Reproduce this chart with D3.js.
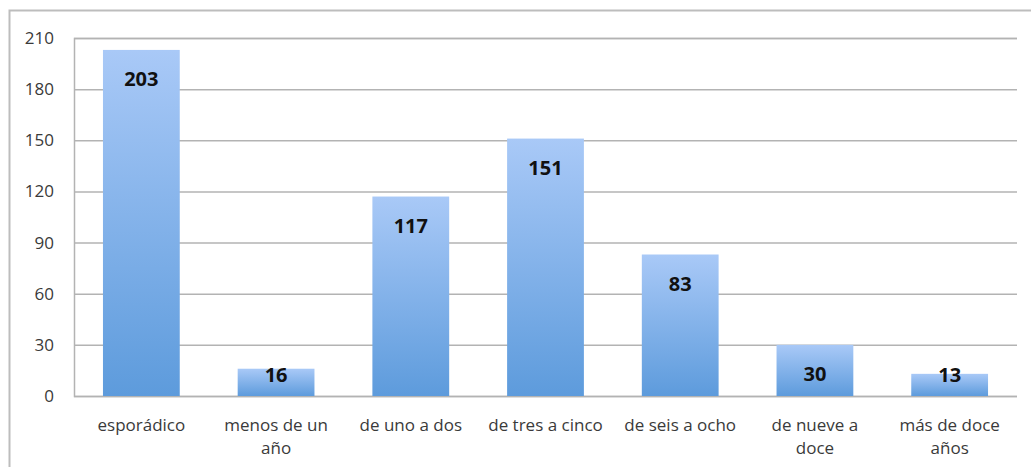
<!DOCTYPE html>
<html><head><meta charset="utf-8">
<script src="https://cdn.jsdelivr.net/npm/d3@7"></script>
<style>body{margin:0;background:#fff}svg{display:block}text{font-family:"Open Sans","Noto Sans",sans-serif}</style>
</head><body>
<script>
const categories = ["esporádico", "menos de un año", "de uno a dos", "de tres a cinco", "de seis a ocho", "de nueve a doce", "más de doce años"];
const categoryLines = [["esporádico"], ["menos de un", "año"], ["de uno a dos"], ["de tres a cinco"], ["de seis a ocho"], ["de nueve a", "doce"], ["más de doce", "años"]];
const values = [203, 16, 117, 151, 83, 30, 13];
const yTicks = [0, 30, 60, 90, 120, 150, 180, 210];

const W = 1031, H = 467;
const m = {left: 74, right: 14, top: 38, bottom: 71};
const svg = d3.select("body").append("svg").attr("width", W).attr("height", H);

// outer frame
svg.append("path").attr("d", `M9.5,${H} V10.5 H${W}`).attr("fill", "none").attr("stroke", "#bdbdbd").attr("stroke-width", 2);

const x = d3.scaleBand().domain(categories).range([m.left, W - m.right]).paddingInner(0.43).paddingOuter(0.215);
const y = d3.scaleLinear().domain([0, 210]).range([H - m.bottom, m.top]);

const defs = svg.append("defs");
const grad = defs.append("linearGradient").attr("id", "bg").attr("x1", 0).attr("y1", 0).attr("x2", 0).attr("y2", 1);
grad.append("stop").attr("offset", "0%").attr("stop-color", "#a9c9f7");
grad.append("stop").attr("offset", "100%").attr("stop-color", "#5d9bdc");

// gridlines
const yAxis = d3.axisLeft(y).tickValues(yTicks).tickSize(-(W - m.right - m.left)).tickPadding(20);
const ga = svg.append("g").attr("transform", `translate(${m.left},0)`).call(yAxis);
ga.select(".domain").attr("stroke", "#b3b3b3").attr("stroke-width", 1.5);
ga.selectAll(".tick line").attr("stroke", "#b3b3b3").attr("stroke-width", 1.5);
ga.selectAll(".tick text").attr("font-size", 17).attr("fill", "#3a3a3a").attr("font-family", "'Open Sans',sans-serif");

// bars
svg.append("g").selectAll("rect").data(values).join("rect")
  .attr("x", (d, i) => x(categories[i]))
  .attr("width", x.bandwidth())
  .attr("y", d => y(d))
  .attr("height", d => y(0) - y(d))
  .attr("fill", "url(#bg)");

// value labels
svg.append("g").selectAll("text").data(values).join("text")
  .attr("x", (d, i) => x(categories[i]) + x.bandwidth() / 2)
  .attr("y", d => Math.min(y(d) + 29, y(0) - 21))
  .attr("dy", "0.35em")
  .attr("text-anchor", "middle")
  .attr("font-size", 20).attr("font-weight", "bold").attr("fill", "#111")
  .text(d => d);

// category labels
const cg = svg.append("g");
categoryLines.forEach((lines, i) => {
  const t = cg.append("text")
    .attr("x", x(categories[i]) + x.bandwidth() / 2)
    .attr("y", y(0) + 35)
    .attr("text-anchor", "middle").attr("font-size", 17).attr("fill", "#3a3a3a");
  lines.forEach((l, j) => t.append("tspan").attr("x", x(categories[i]) + x.bandwidth() / 2).attr("dy", j ? 23 : 0).text(l));
});
</script>
</body></html>
